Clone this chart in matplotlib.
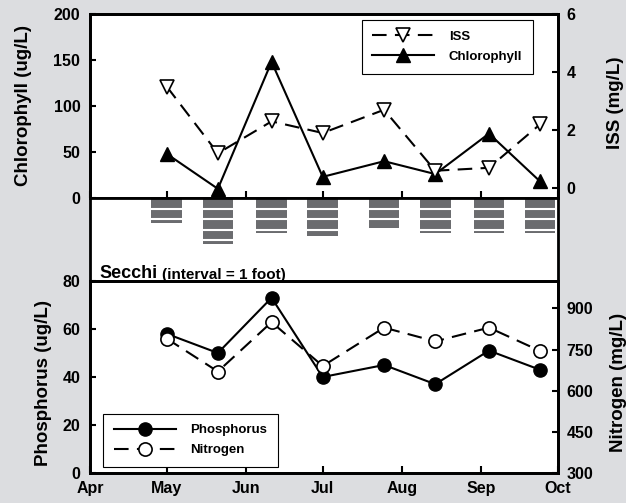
from datetime import datetime, timedelta

import matplotlib.dates as mdates
from matplotlib import pyplot as plt

plt.rcParams["font.family"] = ["Liberation Sans", "DejaVu Sans"]
plt.rcParams["font.weight"] = "bold"
plt.rcParams["axes.labelweight"] = "bold"

sample_dates = ["2006-05-01", "2006-05-21", "2006-06-11", "2006-07-01",
                "2006-07-25", "2006-08-14", "2006-09-04", "2006-09-24"]
chlorophyll = [48, 10, 148, 23, 40, 26, 70, 18]          # ug/L
iss = [3.5, 1.2, 2.3, 1.9, 2.7, 0.6, 0.7, 2.2]           # mg/L
secchi = [2.4, 4.4, 3.3, 3.6, 2.9, 3.3, 3.3, 3.3]        # feet
phosphorus = [58, 50, 73, 40, 45, 37, 51, 43]            # ug/L
nitrogen = [790, 670, 850, 690, 830, 780, 830, 745]      # mg/L

dates = [datetime.strptime(d, "%Y-%m-%d") for d in sample_dates]

BG = "#dcdde0"
BAR = "#6b6c6f"
SPINE_W = 2.0
LINE_W = 1.5
DASH = (7, 4)
TICK_FS = 11.5
LABEL_FS = 13.5
LEG_FS = 9.5

fig = plt.figure(figsize=(6.26, 5.03), dpi=100, facecolor=BG)
W, H = 626, 503
left, width = 90 / W, 468 / W
ax_top = fig.add_axes([left, 1 - 198 / H, width, 184 / H])
ax_sec = fig.add_axes([left, 1 - 281 / H, width, 83 / H], sharex=ax_top)
ax_bot = fig.add_axes([left, 1 - 473 / H, width, 192 / H], sharex=ax_top)
ax_iss = ax_top.twinx()
ax_n = ax_bot.twinx()

# --- top: chlorophyll + ISS
chl_line, = ax_top.plot(dates, chlorophyll, "-", color="black", lw=LINE_W,
                        marker="^", ms=10, mfc="black", mec="black")
iss_line, = ax_iss.plot(dates, iss, "--", color="black", lw=LINE_W, dashes=DASH,
                        marker="v", ms=10, mfc="white", mec="black", mew=1.2)
ax_top.set_ylim(0, 200)
ax_top.set_yticks([0, 50, 100, 150, 200])
ax_iss.set_ylim(-0.34, 6)
ax_iss.set_yticks([0, 2, 4, 6])
ax_top.set_ylabel("Chlorophyll (ug/L)", fontsize=LABEL_FS)
ax_top.yaxis.set_label_coords(-0.124, 0.5)
ax_iss.set_ylabel("ISS (mg/L)", fontsize=LABEL_FS)
ax_iss.yaxis.set_label_coords(1.105, 0.52)

leg_style = dict(fontsize=LEG_FS, fancybox=False, framealpha=1, edgecolor="black",
                 borderpad=0.8, labelspacing=0.6, handlelength=4.7,
                 handletextpad=1.1, borderaxespad=0)
leg = ax_iss.legend([iss_line, chl_line], ["ISS", "Chlorophyll"],
                    loc="upper left", bbox_to_anchor=(0.581, 0.967), **leg_style)
leg.get_frame().set_linewidth(0.8)

# --- middle: secchi depth bars with 1 foot stripes
ax_sec.bar(dates, [-d for d in secchi], width=12, color=BAR, align="center")
for d, depth in zip(dates, secchi):
    feet = [-f for f in range(1, int(depth) + 1) if f < depth]
    ax_sec.hlines(feet, d - timedelta(days=6), d + timedelta(days=6),
                  colors="white", lw=1.5)
ax_sec.set_ylim(-7.9, 0)
ax_sec.tick_params(left=False, bottom=False, labelleft=False, labelbottom=False)
ax_sec.spines["top"].set_visible(False)
ax_sec.spines["bottom"].set_visible(False)
t1 = ax_sec.text(0.021, 0.04, "Secchi", transform=ax_sec.transAxes,
                 fontsize=13, va="baseline")
ax_sec.annotate("(interval = 1 foot)", xy=(1, 0), xycoords=t1,
                xytext=(3, 0), textcoords="offset points",
                fontsize=11, va="bottom")

# --- bottom: phosphorus + nitrogen
p_line, = ax_bot.plot(dates, phosphorus, "-", color="black", lw=LINE_W,
                      marker="o", ms=9.5, mfc="black", mec="black")
n_line, = ax_n.plot(dates, nitrogen, "--", color="black", lw=LINE_W, dashes=DASH,
                    marker="o", ms=9.5, mfc="white", mec="black", mew=1.2)
ax_bot.set_ylim(0, 80)
ax_bot.set_yticks([0, 20, 40, 60, 80])
ax_n.set_ylim(300, 1000)
ax_n.set_yticks([300, 450, 600, 750, 900])
ax_bot.set_ylabel("Phosphorus (ug/L)", fontsize=LABEL_FS)
ax_bot.yaxis.set_label_coords(-0.081, 0.47)
ax_n.set_ylabel("Nitrogen (mg/L)", fontsize=LABEL_FS)
ax_n.yaxis.set_label_coords(1.111, 0.47)

leg2 = ax_n.legend([p_line, n_line], ["Phosphorus", "Nitrogen"],
                   loc="lower left", bbox_to_anchor=(0.0278, 0.031), **leg_style)
leg2.get_frame().set_linewidth(0.8)

# --- shared x axis
ax_top.set_xlim(datetime(2006, 4, 1), datetime(2006, 10, 1))
ax_bot.xaxis.set_major_locator(mdates.MonthLocator())
ax_bot.xaxis.set_major_formatter(mdates.DateFormatter("%b"))

for ax in (ax_top, ax_bot):
    ax.tick_params(axis="x", direction="in", length=5, width=1.5,
                   labelsize=TICK_FS, pad=6)
    ax.tick_params(axis="y", direction="in", length=4, width=1.5,
                   labelsize=TICK_FS, pad=7)
for ax in (ax_iss, ax_n):
    ax.tick_params(axis="y", direction="in", length=4, width=1.5,
                   labelsize=TICK_FS, pad=6)
ax_top.tick_params(axis="x", labelbottom=False)

for ax in (ax_top, ax_sec, ax_bot, ax_iss, ax_n):
    for s in ax.spines.values():
        s.set_linewidth(SPINE_W)

fig.savefig("out.png", dpi=100, facecolor=BG)
